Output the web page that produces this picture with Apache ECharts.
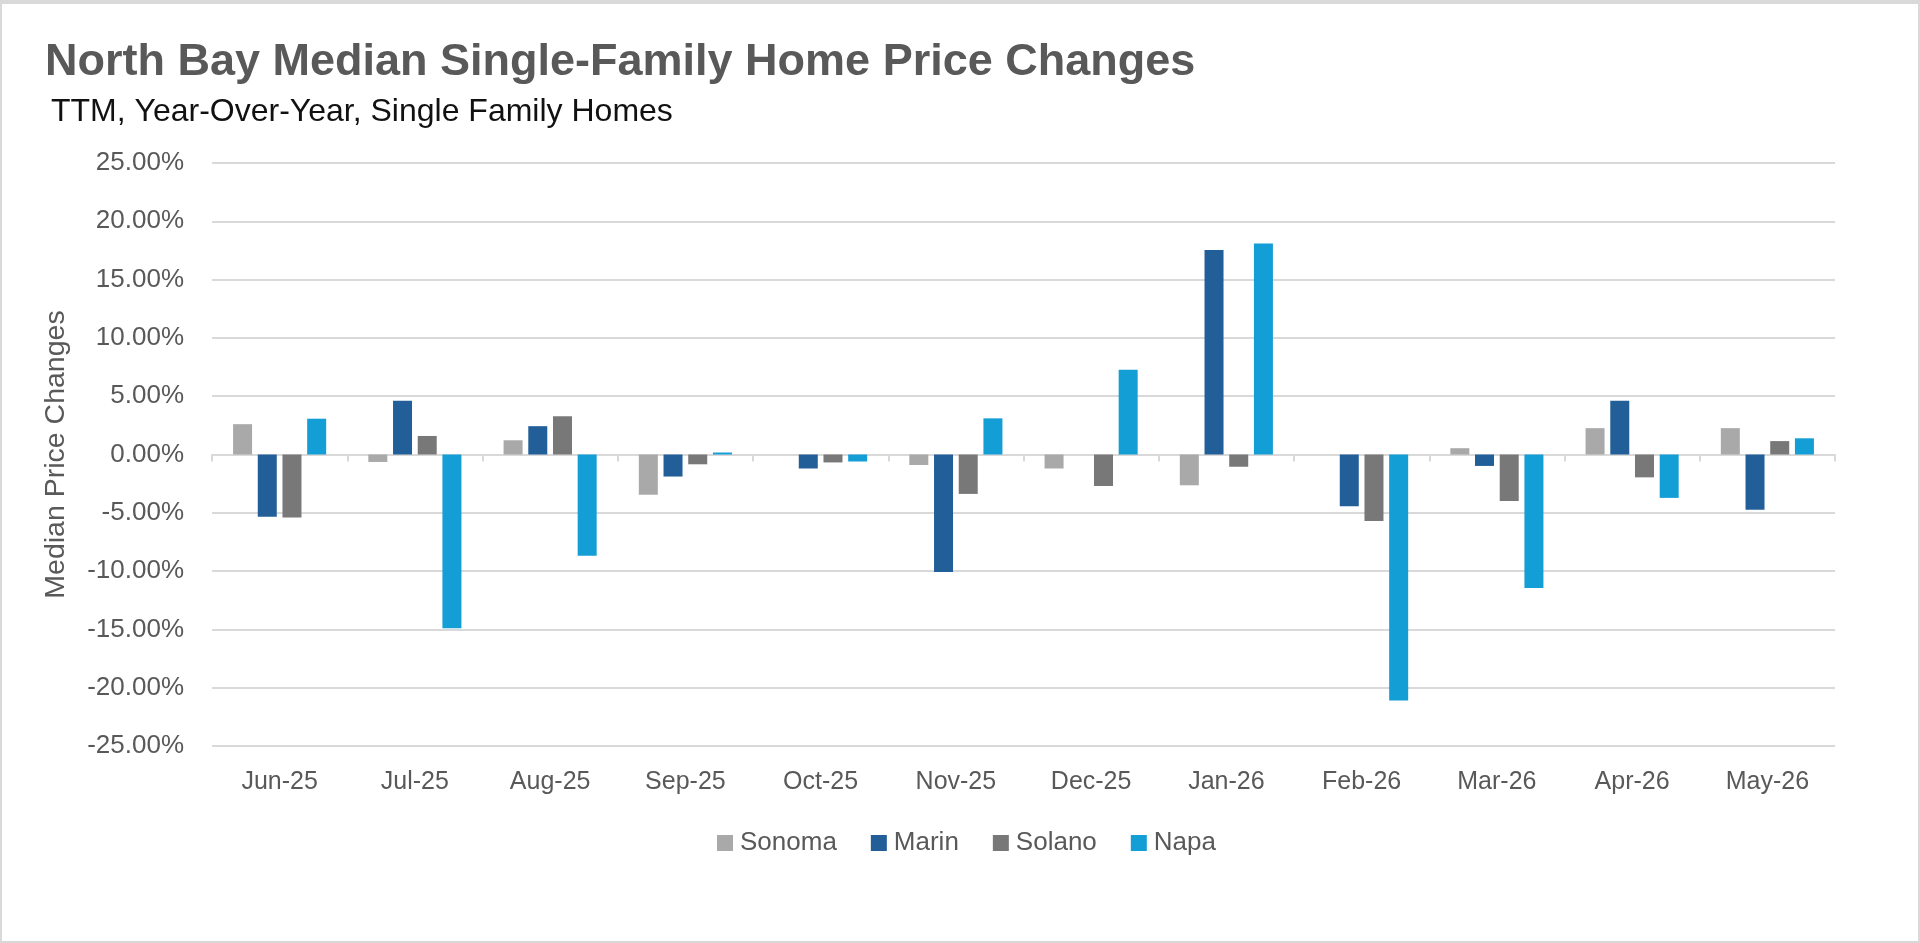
<!DOCTYPE html>
<html>
<head>
<meta charset="utf-8">
<script src="https://cdn.jsdelivr.net/npm/echarts@6/dist/echarts.min.js"></script>
<style>
  html, body { margin: 0; padding: 0; background: #fff; }
  #wrap { position: relative; width: 1920px; height: 943px; }
  #grafico { position: absolute; left: 0; top: 0; width: 1920px; height: 943px; }
  #borde { position: absolute; left: 0; top: 0; width: 1920px; height: 943px; box-sizing: border-box;
           border: 2px solid #d9d9d9; border-top-width: 4px; pointer-events: none; }
</style>
</head>
<body>
<div id="wrap">
  <div id="grafico"></div>
  <div id="borde"></div>
</div>
<script>
// Meses (TTM, interanual)
var months = ['Jun-25', 'Jul-25', 'Aug-25', 'Sep-25', 'Oct-25', 'Nov-25',
              'Dec-25', 'Jan-26', 'Feb-26', 'Mar-26', 'Apr-26', 'May-26'];

// Cambios de precio mediano, en %
var sonoma = [2.6, -0.64, 1.22, -3.45, 0, -0.9, -1.2, -2.64, 0, 0.54, 2.26, 2.26];
var marin  = [-5.34, 4.6, 2.43, -1.89, -1.2, -10.07, 0, 17.53, -4.43, -0.98, 4.6, -4.73];
var solano = [-5.4, 1.59, 3.28, -0.84, -0.68, -3.38, -2.7, -1.05, -5.7, -3.99, -1.96, 1.15];
var napa   = [3.07, -14.9, -8.68, 0.17, -0.6, 3.1, 7.26, 18.1, -21.1, -11.45, -3.72, 1.39];

var yTicks = { min: -25, max: 25, interval: 5 };

document.addEventListener('DOMContentLoaded', function () {
    var myChart = echarts.init(document.getElementById('grafico'));

    function barSeries(name, data, color) {
        return {
            name: name,
            type: 'bar',
            xAxisIndex: 0,
            data: data,
            barWidth: 19,
            barGap: '30%',
            itemStyle: { color: color }
        };
    }

    var option = {
        animation: false,
        backgroundColor: '#ffffff',
        title: [{
            text: 'North Bay Median Single-Family Home Price Changes',
            left: 45,
            top: 40,
            padding: 0,
            textStyle: { fontFamily: 'Liberation Sans', fontWeight: 'bold', fontSize: 45, color: '#595959' }
        }, {
            text: 'TTM, Year-Over-Year, Single Family Homes',
            left: 51,
            top: 96,
            padding: 0,
            textStyle: { fontFamily: 'Liberation Sans', fontWeight: 'normal', fontSize: 32, color: '#111111' }
        }],
        legend: {
            data: ['Sonoma', 'Marin', 'Solano', 'Napa'],
            left: 717,
            top: 830,
            padding: 0,
            itemWidth: 16,
            itemHeight: 16,
            itemGap: 34,
            icon: 'rect',
            textStyle: { fontFamily: 'Liberation Sans', fontSize: 26, color: '#595959', padding: [0, 0, 0, 2] }
        },
        grid: { left: 212, right: 85, top: 163, bottom: 197 },
        xAxis: [{
            type: 'category',
            data: months,
            position: 'bottom',
            axisLine: { show: false, onZero: false },
            axisTick: { show: false },
            axisLabel: { margin: 24, fontFamily: 'Liberation Sans', fontSize: 25, color: '#595959' }
        }, {
            type: 'category',
            data: months,
            position: 'bottom',
            axisLine: { show: true, onZero: true, lineStyle: { color: '#d9d9d9', width: 2 } },
            axisTick: { show: true, length: 7, lineStyle: { color: '#d9d9d9', width: 2 } },
            axisLabel: { show: false }
        }],
        yAxis: {
            type: 'value',
            min: yTicks.min,
            max: yTicks.max,
            interval: yTicks.interval,
            name: 'Median Price Changes',
            nameLocation: 'middle',
            nameGap: 141,
            nameTextStyle: { fontFamily: 'Liberation Sans', fontSize: 28.5, color: '#595959' },
            axisLine: { show: false },
            axisTick: { show: false },
            splitLine: { lineStyle: { color: '#d9d9d9', width: 2 } },
            axisLabel: {
                margin: 28,
                fontFamily: 'Liberation Sans',
                fontSize: 26,
                color: '#595959',
                formatter: function (v) { return v.toFixed(2) + '%'; }
            }
        },
        series: [
            barSeries('Sonoma', sonoma, '#a9a9a9'),
            barSeries('Marin', marin, '#225f98'),
            barSeries('Solano', solano, '#787878'),
            barSeries('Napa', napa, '#139ed6')
        ]
    };

    myChart.setOption(option);
});
</script>
</body>
</html>
